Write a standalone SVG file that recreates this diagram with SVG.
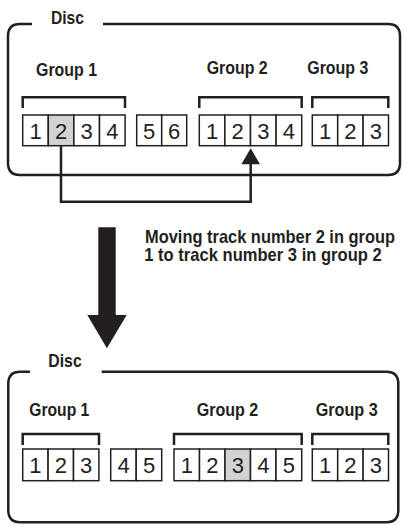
<svg xmlns="http://www.w3.org/2000/svg" width="403" height="526" viewBox="0 0 403 526">
<style>
.frame{fill:none;stroke:#231f20;stroke-width:2.5;stroke-linejoin:round}
.br{fill:none;stroke:#231f20;stroke-width:2.5}
.cell{fill:#fff;stroke:#231f20;stroke-width:1.5}
.sel{fill:#d2d2d2}
.num{font-family:"Liberation Sans",Arial,sans-serif;font-size:22px;fill:#231f20;text-anchor:middle}
.lbl{font-family:"Liberation Sans",Arial,sans-serif;font-weight:bold;font-size:19px;fill:#231f20}
.conn{fill:none;stroke:#231f20;stroke-width:2.5}
</style>
<rect width="403" height="526" fill="#fff"/>

<g id="disc-before">
<path class="frame" d="M32,24 H20 Q8,24 8,36 V163 Q8,175 20,175 H388 Q400,175 400,163 V36 Q400,24 388,24 H103"/>
<text class="lbl" x="51" y="24" textLength="33" lengthAdjust="spacingAndGlyphs">Disc</text>
</g>

<g id="group1-before">
<text class="lbl" x="36" y="76" textLength="61" lengthAdjust="spacingAndGlyphs">Group 1</text>
<path class="br" d="M22.7,108 V97.3 H125 V108"/>
<rect class="cell" x="22.7" y="115" width="25.6" height="30.7"/>
<rect class="cell sel" x="48.3" y="115" width="25.6" height="30.7"/>
<rect class="cell" x="73.9" y="115" width="25.6" height="30.7"/>
<rect class="cell" x="99.5" y="115" width="25.6" height="30.7"/>
<text class="num" x="35.5" y="138.5">1</text>
<text class="num" x="61.1" y="138.5">2</text>
<text class="num" x="86.7" y="138.5">3</text>
<text class="num" x="112.3" y="138.5">4</text>
</g>

<g id="ungrouped-before">
<rect class="cell" x="136.7" y="115" width="25" height="30.7"/>
<rect class="cell" x="161.7" y="115" width="25" height="30.7"/>
<text class="num" x="149.2" y="138.5">5</text>
<text class="num" x="174.2" y="138.5">6</text>
</g>

<g id="group2-before">
<text class="lbl" x="206.7" y="74" textLength="61" lengthAdjust="spacingAndGlyphs">Group 2</text>
<path class="br" d="M199.3,108 V97.3 H301.7 V108"/>
<rect class="cell" x="199.3" y="115" width="25.6" height="30.7"/>
<rect class="cell" x="224.9" y="115" width="25.6" height="30.7"/>
<rect class="cell" x="250.5" y="115" width="25.6" height="30.7"/>
<rect class="cell" x="276.1" y="115" width="25.6" height="30.7"/>
<text class="num" x="212.1" y="138.5">1</text>
<text class="num" x="237.7" y="138.5">2</text>
<text class="num" x="263.3" y="138.5">3</text>
<text class="num" x="288.9" y="138.5">4</text>
</g>

<g id="group3-before">
<text class="lbl" x="307.3" y="74" textLength="61" lengthAdjust="spacingAndGlyphs">Group 3</text>
<path class="br" d="M312.3,108 V97.3 H388.3 V108"/>
<rect class="cell" x="312.3" y="115" width="25.4" height="30.7"/>
<rect class="cell" x="337.7" y="115" width="25.4" height="30.7"/>
<rect class="cell" x="363.1" y="115" width="25.4" height="30.7"/>
<text class="num" x="325" y="138.5">1</text>
<text class="num" x="350.4" y="138.5">2</text>
<text class="num" x="375.8" y="138.5">3</text>
</g>

<g id="connectors">
<path class="conn" d="M61,145.7 V201.8 H250.7 V162"/>
<polygon points="250.7,148.3 260,164.3 241.4,164.3" fill="#231f20"/>
<polygon points="98.3,227.3 115.7,227.3 115.7,315 126.7,315 106.9,348.3 87.3,315 98.3,315" fill="#231f20"/>
</g>

<g id="caption">
<text class="lbl" x="145" y="243.3" textLength="250" lengthAdjust="spacingAndGlyphs">Moving track number 2 in group</text>
<text class="lbl" x="144.3" y="260.7" textLength="237.4" lengthAdjust="spacingAndGlyphs">1 to track number 3 in group 2</text>
</g>

<g id="disc-after">
<path class="frame" d="M30,371.7 H20.3 Q8.3,371.7 8.3,383.7 V510.3 Q8.3,522.3 20.3,522.3 H386.3 Q398.3,522.3 398.3,510.3 V383.7 Q398.3,371.7 386.3,371.7 H101.7"/>
<text class="lbl" x="48.3" y="367.3" textLength="33.4" lengthAdjust="spacingAndGlyphs">Disc</text>
</g>

<g id="group1-after">
<text class="lbl" x="29.3" y="416" textLength="60" lengthAdjust="spacingAndGlyphs">Group 1</text>
<path class="br" d="M22.7,445 V434 H99 V445"/>
<rect class="cell" x="22.7" y="449" width="25.4" height="31.7"/>
<rect class="cell" x="48.1" y="449" width="25.4" height="31.7"/>
<rect class="cell" x="73.5" y="449" width="25.4" height="31.7"/>
<text class="num" x="35.4" y="473">1</text>
<text class="num" x="60.8" y="473">2</text>
<text class="num" x="86.2" y="473">3</text>
</g>

<g id="ungrouped-after">
<rect class="cell" x="110.7" y="449" width="25.5" height="31.7"/>
<rect class="cell" x="136.2" y="449" width="25.5" height="31.7"/>
<text class="num" x="123.5" y="473">4</text>
<text class="num" x="149" y="473">5</text>
</g>

<g id="group2-after">
<text class="lbl" x="196.7" y="416" textLength="61.6" lengthAdjust="spacingAndGlyphs">Group 2</text>
<path class="br" d="M174,445 V434 H301.7 V445"/>
<rect class="cell" x="174" y="449" width="25.5" height="31.7"/>
<rect class="cell" x="199.5" y="449" width="25.5" height="31.7"/>
<rect class="cell sel" x="225" y="449" width="25.5" height="31.7"/>
<rect class="cell" x="250.5" y="449" width="25.5" height="31.7"/>
<rect class="cell" x="276" y="449" width="25.7" height="31.7"/>
<text class="num" x="186.8" y="473">1</text>
<text class="num" x="212.3" y="473">2</text>
<text class="num" x="237.8" y="473">3</text>
<text class="num" x="263.3" y="473">4</text>
<text class="num" x="288.8" y="473">5</text>
</g>

<g id="group3-after">
<text class="lbl" x="315.7" y="416" textLength="62" lengthAdjust="spacingAndGlyphs">Group 3</text>
<path class="br" d="M312.3,445 V434 H388.3 V445"/>
<rect class="cell" x="312.3" y="449" width="25.4" height="31.7"/>
<rect class="cell" x="337.7" y="449" width="25.4" height="31.7"/>
<rect class="cell" x="363.1" y="449" width="25.4" height="31.7"/>
<text class="num" x="325" y="473">1</text>
<text class="num" x="350.4" y="473">2</text>
<text class="num" x="375.8" y="473">3</text>
</g>
</svg>
